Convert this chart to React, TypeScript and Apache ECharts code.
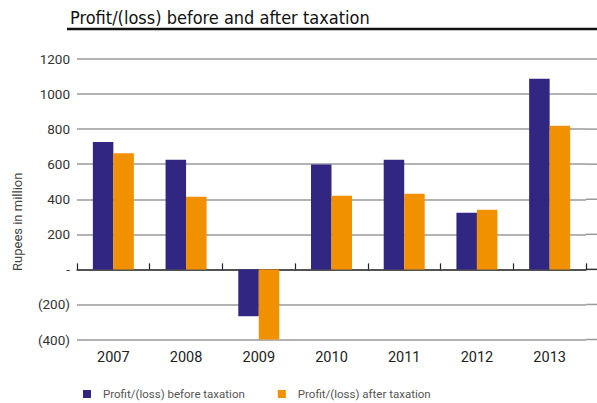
import React, { useEffect, useRef } from "react";
import * as echarts from "echarts";

const categories = ["2007", "2008", "2009", "2010", "2011", "2012", "2013"];
const beforeTax = [726, 625, -268, 598, 625, 323, 1087];
const afterTax = [663, 414, -400, 420, 431, 340, 819];
const yTicks = [-400, -200, 0, 200, 400, 600, 800, 1000, 1200];
const seriesNames = ["Profit/(loss) before taxation", "Profit/(loss) after taxation"];
const colors = ["#312783", "#F29100"];

const FONT = "Roboto, 'Noto Sans', sans-serif";
const TITLE_FONT = "'DejaVu Sans Condensed', 'Liberation Sans Narrow', Roboto, sans-serif";

function fmt(v: number): string {
  if (v === 0) return "-";
  if (v < 0) return "(" + Math.abs(v) + ")";
  return String(v);
}

export default function App() {
  const ref = useRef<HTMLDivElement>(null);
  useEffect(() => {
    if (!ref.current) return;
    const chart = echarts.init(ref.current, null, { renderer: "svg" });
    const gridLeft = 77;
    const gridRight = 11;
    const top = 59;
    const bottom = 63.5;
    chart.setOption({
      animation: false,
      textStyle: { fontFamily: FONT },
      title: {
        text: "Profit/(loss) before and after taxation",
        left: 65,
        top: 3,
        textStyle: { fontFamily: TITLE_FONT, fontSize: 18, fontWeight: "normal", color: "#111" },
      },
      legend: {
        left: 78,
        top: 383,
        itemWidth: 8,
        itemHeight: 8,
        itemGap: 33,
        icon: "rect",
        textStyle: { fontFamily: FONT, fontSize: 11.5, color: "#555", padding: [0, 0, 0, 7] },
        data: seriesNames,
      },
      grid: { left: gridLeft, right: gridRight, top, bottom, containLabel: false },
      xAxis: [
        {
          type: "category",
          data: categories,
          axisLine: { onZero: true, lineStyle: { color: "#333", width: 1.5 } },
          axisTick: { show: true, inside: true, length: 6, lineStyle: { color: "#222", width: 1.2 } },
          axisLabel: { show: false },
        },
        {
          type: "category",
          data: categories,
          position: "bottom",
          axisLine: { show: false, onZero: false },
          axisTick: { show: false },
          axisLabel: { show: true, fontSize: 14.5, color: "#222", margin: 10, fontFamily: FONT },
        },
      ],
      yAxis: {
        type: "value",
        min: yTicks[0],
        max: yTicks[yTicks.length - 1],
        interval: 200,
        axisLine: { show: false },
        axisTick: { show: false },
        axisLabel: {
          fontSize: 13.5,
          color: "#333",
          margin: 7,
          fontFamily: FONT,
          formatter: (v: number) => fmt(v),
        },
        splitLine: { show: true, lineStyle: { color: "#9a9a9a", width: 1.5 } },
      },
      series: [
        {
          name: seriesNames[0],
          type: "bar",
          xAxisIndex: 0,
          data: beforeTax,
          barWidth: 20.5,
          barGap: "0%",
          itemStyle: { color: colors[0] },
        },
        {
          name: seriesNames[1],
          type: "bar",
          xAxisIndex: 0,
          data: afterTax,
          barWidth: 20.5,
          barGap: "0%",
          itemStyle: { color: colors[1] },
        },
      ],
    });

    // decorations: title underline, y-axis name, gridline extension to the right edge
    const w = chart.getWidth();
    const extra: any[] = [];
    yTicks.forEach((v) => {
      const p = chart.convertToPixel({ yAxisIndex: 0 }, v) as number;
      extra.push({
        type: "line",
        shape: { x1: w - gridRight, y1: p, x2: w, y2: p },
        style: { stroke: v === 0 ? "#333" : "#9a9a9a", lineWidth: 1.5 },
        silent: true,
      });
    });
    const yMid = chart.convertToPixel({ yAxisIndex: 0 }, 300) as number;
    extra.push({
      type: "line",
      shape: { x1: 67, y1: 29, x2: w, y2: 29 },
      style: { stroke: "#111", lineWidth: 2.5 },
      silent: true,
    });
    extra.push({
      type: "text",
      x: 17,
      y: yMid + 5,
      rotation: Math.PI / 2,
      style: {
        text: "Rupees in million",
        fontFamily: FONT,
        fontSize: 13,
        fill: "#444",
        align: "center",
        verticalAlign: "middle",
      },
      silent: true,
    });
    chart.setOption({ graphic: extra });

    return () => chart.dispose();
  }, []);
  return <div ref={ref} style={{ width: 597, height: 403, position: "absolute", left: 0, top: 0 }} />;
}
